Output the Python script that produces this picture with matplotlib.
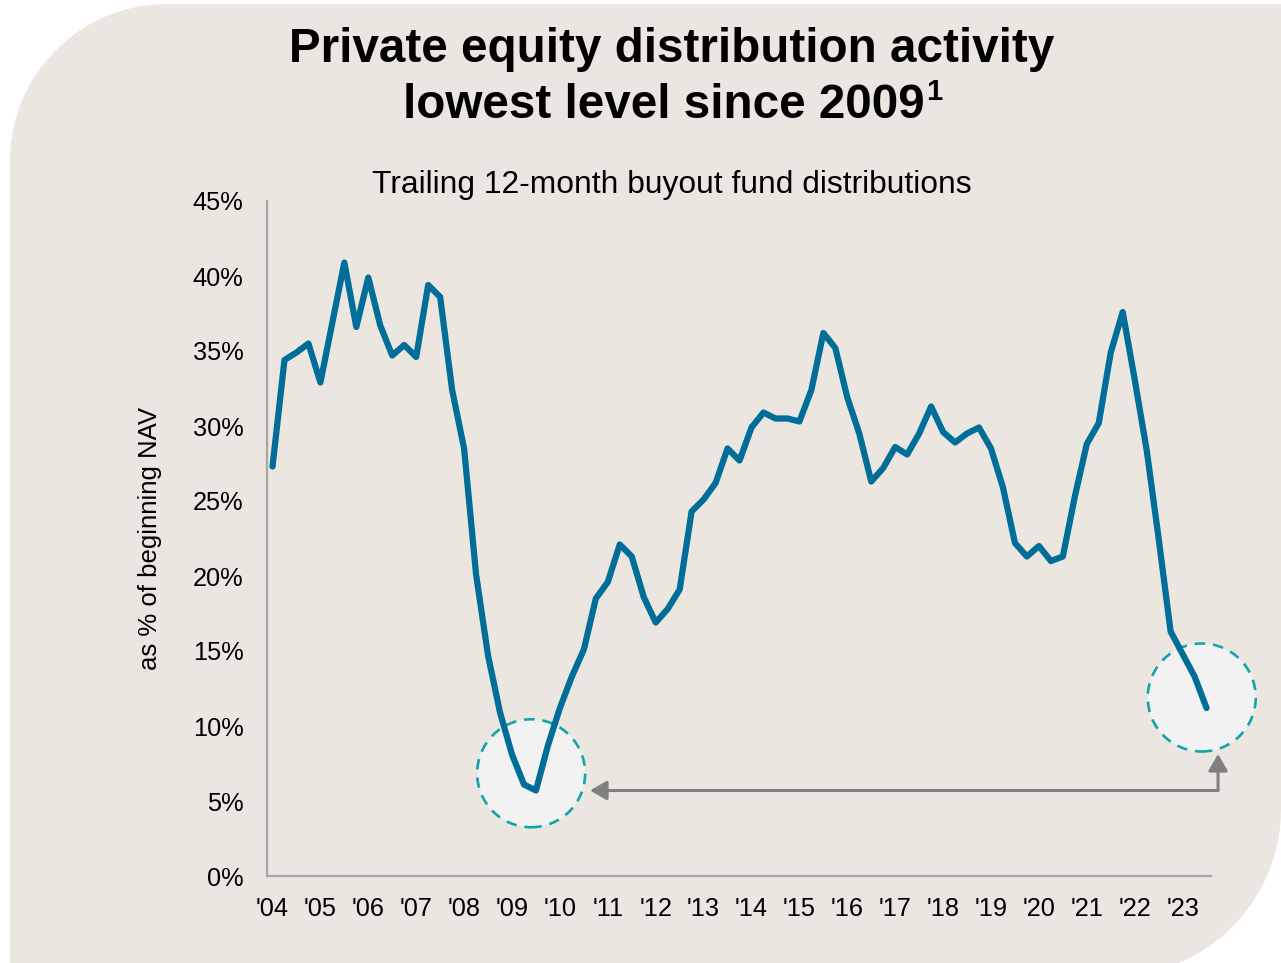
import numpy as np
import pandas as pd
import matplotlib
matplotlib.use('Agg')
import matplotlib.pyplot as plt
from matplotlib.path import Path
from matplotlib.patches import PathPatch, Ellipse
from matplotlib.transforms import Affine2D

plt.rcParams['font.family'] = ['Liberation Sans', 'DejaVu Sans']
plt.rcParams['mathtext.fontset'] = 'custom'
plt.rcParams['mathtext.rm'] = 'Liberation Sans'
plt.rcParams['mathtext.bf'] = 'Liberation Sans:bold'

# 数据：季度，买断基金过去12个月分配占期初NAV的比例(%)
quarters = pd.period_range('2004Q1', '2023Q3', freq='Q')
dist_pct = [27.3, 34.4, 34.9, 35.5, 32.9, 36.9, 40.9, 36.6, 39.9, 36.7,
            34.7, 35.4, 34.6, 39.4, 38.6, 32.4, 28.5, 20.1, 14.7, 10.9,
            8.1, 6.1, 5.7, 8.7, 11.2, 13.3, 15.1, 18.5, 19.6, 22.1,
            21.3, 18.6, 16.9, 17.8, 19.1, 24.3, 25.1, 26.2, 28.5, 27.7,
            29.9, 30.9, 30.5, 30.5, 30.3, 32.4, 36.2, 35.2, 31.9, 29.5,
            26.3, 27.2, 28.6, 28.1, 29.5, 31.3, 29.6, 28.9, 29.5, 29.9,
            28.5, 25.9, 22.2, 21.3, 22.0, 21.0, 21.3, 25.3, 28.8, 30.2,
            34.9, 37.6, 33.1, 28.4, 22.5, 16.3, 14.8, 13.3, 11.2]
year_ticks = list(range(2004, 2024))
year_labels = ["'" + str(y)[2:] for y in year_ticks]
y_ticks = list(range(0, 50, 5))

TITLE = 'Private equity distribution activity'
TITLE2 = 'lowest level since 2009'
SUPER = '1'
SUBTITLE = 'Trailing 12-month buyout fund distributions'
YLABEL = 'as % of beginning NAV'

BG = '#ECE6E0'
LINE = '#006E98'
TEAL = '#13A3AC'
GREY = '#808080'

W, H = 1281, 963
x_years = np.array([q.year + (q.quarter - 1) / 4 for q in quarters])
vals = np.array(dist_pct)

fig = plt.figure(figsize=(W / 100, H / 100), dpi=100)
fig.patch.set_facecolor('white')

# 背景圆角面板（左上、右下为圆角）
def panel_path():
    x0, x1, top, bot = 10, 1281, H - 4, H - 976
    r1, r2 = 157, 167
    pts = [(x0, bot), (x0, top - r1)]
    a = np.linspace(np.pi, np.pi / 2, 40)
    pts += list(zip(x0 + r1 + r1 * np.cos(a), top - r1 + r1 * np.sin(a)))
    pts += [(x1 + 5, top), (x1, bot + r2)]
    a = np.linspace(0, -np.pi / 2, 40)
    pts += list(zip(x1 - r2 + r2 * np.cos(a), bot + r2 + r2 * np.sin(a)))
    pts += [(x0, bot)]
    return Path(pts, closed=True)

bg = PathPatch(panel_path(), facecolor=BG, edgecolor='none',
               transform=Affine2D().scale(1 / W, 1 / H) + fig.transFigure, zorder=0)
fig.add_artist(bg)

L, R, B, T = 267, 1211, 876, 201
ax = fig.add_axes([L / W, 1 - B / H, (R - L) / W, (B - T) / H])
ax.set_facecolor('none')

ax.plot(x_years, vals, color=LINE, lw=4.5, solid_joinstyle='round',
        solid_capstyle='round', zorder=5)

ax.set_xlim(2004 - 5.5 / 47.9, 2004 + (R - 272.5) / 47.9)
ax.set_ylim(0, 45)
ax.set_xticks(year_ticks)
ax.set_xticklabels(year_labels)
ax.set_yticks(y_ticks)
ax.set_yticklabels([f'{v}%' for v in y_ticks])
ax.tick_params(axis='both', length=0, labelsize=18.3, colors='black')
ax.tick_params(axis='y', pad=17)
ax.tick_params(axis='x', pad=15)
for s in ['top', 'right']:
    ax.spines[s].set_visible(False)
for s in ['left', 'bottom']:
    ax.spines[s].set_color('#A6A6A6')
    ax.spines[s].set_linewidth(1.6)

ax.set_ylabel(YLABEL, fontsize=18.5)
ax.yaxis.set_label_coords(-0.111, 0.5)

# 圆圈标注
px_year = (R - L) / (ax.get_xlim()[1] - ax.get_xlim()[0])
px_pct = (B - T) / 45
rad = 54
i_min = int(np.argmin(vals))
for cx, cy in [(x_years[i_min] - 0.1, vals[i_min] + 1.15),
               (x_years[-1] - 0.1, vals[-1] + 0.7)]:
    ax.add_patch(Ellipse((cx, cy), 2 * rad / px_year, 2 * rad / px_pct,
                         facecolor='#F2F2F2', edgecolor=TEAL, lw=1.9,
                         ls=(0, (4, 3)), zorder=3, clip_on=False))

# 箭头
corner = (x_years[-1] + 0.24, vals[i_min])
aprops = dict(arrowstyle='-|>,head_length=0.72,head_width=0.42', color=GREY,
              lw=2.2, shrinkA=0, shrinkB=0, mutation_scale=14)
ax.annotate('', xy=(x_years[i_min] + 1.13, vals[i_min]), xytext=corner,
            arrowprops=aprops, annotation_clip=False, zorder=4)
ax.annotate('', xy=(corner[0], 8.13), xytext=corner,
            arrowprops=aprops, annotation_clip=False, zorder=4)

# 标题
fig.text(672 / W, 1 - 62 / H, TITLE, ha='center', va='baseline',
         fontsize=34.3, fontweight='bold')
t2 = fig.text(664 / W, 1 - 118 / H, TITLE2, ha='center', va='baseline',
              fontsize=34.3, fontweight='bold')
fig.canvas.draw()
bb = t2.get_window_extent()
fig.text((bb.x1 + 1) / W, 1 - 100 / H, SUPER, ha='left', va='baseline',
         fontsize=21, fontweight='bold')
fig.text(672 / W, 1 - 193 / H, SUBTITLE, ha='center', va='baseline',
         fontsize=22.9)

fig.savefig('out.png', dpi=100, facecolor='white')
